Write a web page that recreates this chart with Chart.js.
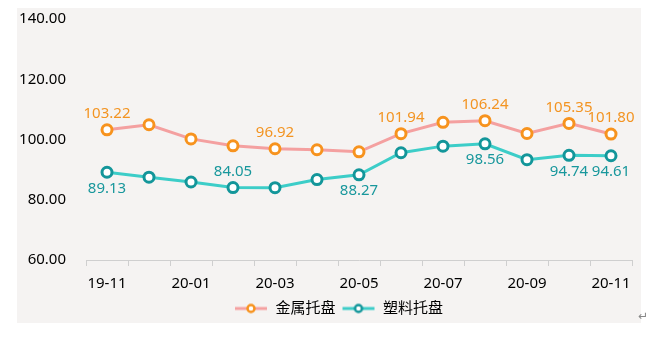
<!DOCTYPE html>
<html>
<head>
<meta charset="utf-8">
<script src="https://cdn.jsdelivr.net/npm/chart.js@4.4.0/dist/chart.umd.min.js"></script>
<style>
  html, body { margin: 0; padding: 0; background: #fff; }
  #panel {
    position: absolute; left: 17px; top: 8px; width: 624px; height: 315px;
    background: #f5f3f2;
  }
  #mark { position: absolute; left: 638px; top: 309px; font: 12px "DejaVu Sans"; color: #888; }
</style>
</head>
<body>
<div id="panel"><canvas id="chart" width="624" height="315"></canvas></div>
<div id="mark">↵</div>
<script>
// months on the x axis
const months = ['19-11', '19-12', '20-01', '20-02', '20-03', '20-04', '20-05',
                '20-06', '20-07', '20-08', '20-09', '20-10', '20-11'];
// 金属托盘 index
const metalValues = [103.22, 104.9, 100.2, 97.9, 96.92, 96.6, 95.9, 101.94, 105.7, 106.24, 102.0, 105.35, 101.80];
// 塑料托盘 index
const plasticValues = [89.13, 87.5, 85.9, 84.05, 84.0, 86.7, 88.27, 95.6, 97.8, 98.56, 93.3, 94.74, 94.61];
// which points carry a value label
const metalLabelled = [0, 4, 7, 9, 11, 12];
const plasticLabelledBelow = [0, 6, 9, 11, 12];
const plasticLabelledAbove = [3];
const yTicks = [60, 80, 100, 120, 140];

const FONT = '"Noto Sans", "Noto Sans CJK SC", sans-serif';

function legendIcon(lineColor, pointColor) {
    const c = document.createElement('canvas');
    c.width = 34; c.height = 12;
    const g = c.getContext('2d');
    g.strokeStyle = lineColor; g.lineWidth = 3;
    g.beginPath(); g.moveTo(1, 6); g.lineTo(33, 6); g.stroke();
    g.fillStyle = '#fff'; g.strokeStyle = pointColor; g.lineWidth = 2.5;
    g.beginPath(); g.arc(17, 6, 3.5, 0, Math.PI * 2); g.fill(); g.stroke();
    return c;
}

const valueLabels = {
    id: 'valueLabels',
    afterLayout(chart) {
        // legend in the original sits a little right of centre and lower
        chart.legend.left += 14;
        chart.legend.right += 14;
        chart.legend.top += 3;
        chart.legend.bottom += 3;
    },
    afterDatasetsDraw(chart) {
        const ctx = chart.ctx;
        ctx.save();
        ctx.font = '15px ' + FONT;
        ctx.textAlign = 'center';
        ctx.textBaseline = 'middle';
        chart.data.datasets.forEach((ds, i) => {
            const meta = chart.getDatasetMeta(i);
            ctx.fillStyle = ds.labelColor;
            ds.labelsAbove.forEach(idx => {
                const p = meta.data[idx];
                ctx.fillText(ds.data[idx].toFixed(2), p.x, p.y - 16);
            });
            ds.labelsBelow.forEach(idx => {
                const p = meta.data[idx];
                ctx.fillText(ds.data[idx].toFixed(2), p.x, p.y + 16);
            });
        });
        ctx.restore();
    }
};

new Chart(document.getElementById('chart'), {
    type: 'line',
    data: {
        labels: months,
        datasets: [{
            label: '金属托盘',
            data: metalValues,
            borderColor: '#f4a0a0',
            borderWidth: 3,
            pointBackgroundColor: '#fff',
            pointBorderColor: '#f7931e',
            pointBorderWidth: 3,
            pointRadius: 5,
            tension: 0,
            labelColor: '#f39422',
            labelsAbove: metalLabelled,
            labelsBelow: []
        }, {
            label: '塑料托盘',
            data: plasticValues,
            borderColor: '#3ccdc8',
            borderWidth: 3,
            pointBackgroundColor: '#fff',
            pointBorderColor: '#13969a',
            pointBorderWidth: 3,
            pointRadius: 5,
            tension: 0,
            labelColor: '#18979c',
            labelsAbove: plasticLabelledAbove,
            labelsBelow: plasticLabelledBelow
        }]
    },
    options: {
        responsive: false,
        animation: false,
        layout: { padding: { top: 11, right: 9, left: 0, bottom: 0 } },
        plugins: {
            tooltip: { enabled: false },
            legend: {
                position: 'bottom',
                labels: {
                    usePointStyle: true,
                    pointStyleWidth: 34,
                    padding: 6,
                    color: '#000',
                    font: { family: FONT, size: 15 },
                    generateLabels(chart) {
                        return chart.data.datasets.map((ds, i) => ({
                            text: ds.label,
                            datasetIndex: i,
                            fontColor: '#000',
                            pointStyle: legendIcon(ds.borderColor, ds.pointBorderColor),
                            lineWidth: 0
                        }));
                    }
                }
            }
        },
        scales: {
            x: {
                offset: true,
                border: { display: true, color: '#cfcfcf', width: 1 },
                grid: { offset: true, drawOnChartArea: false, drawTicks: true, tickLength: 6, color: '#cfcfcf' },
                afterFit(scale) { scale.height = 32; },
                ticks: {
                    autoSkip: false, maxRotation: 0, padding: 9,
                    color: '#000', font: { family: FONT, size: 15 },
                    callback: (v, i) => (i % 2 === 0 ? months[i] : '')
                }
            },
            y: {
                min: 60, max: 140,
                border: { display: false },
                grid: { display: false, drawTicks: true, tickLength: 20 },
                afterFit(scale) { scale.width = 69; },
                afterBuildTicks(scale) { scale.ticks = yTicks.map(v => ({ value: v })); },
                ticks: {
                    padding: 0,
                    color: '#000', font: { family: FONT, size: 15 },
                    callback: v => v.toFixed(2)
                }
            }
        }
    },
    plugins: [valueLabels]
});
</script>
</body>
</html>
